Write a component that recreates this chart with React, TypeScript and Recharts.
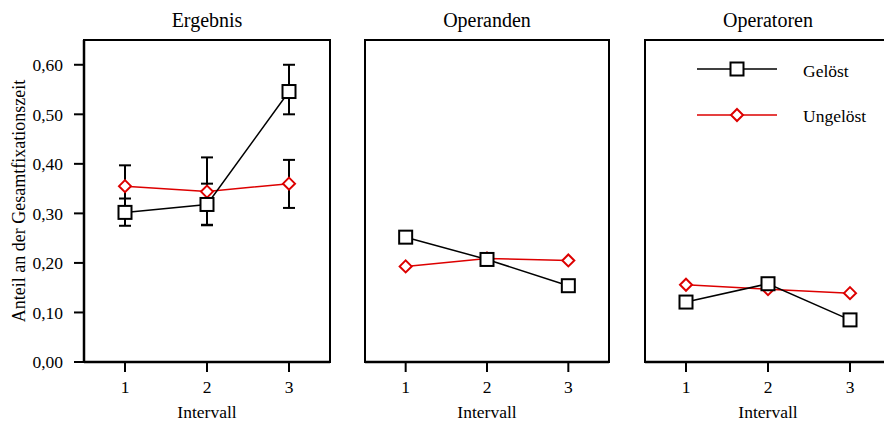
import React from 'react';
import {
  LineChart,
  Line,
  XAxis,
  YAxis,
  ErrorBar,
  ReferenceArea,
  Legend,
} from 'recharts';

const INTERVALS = [1, 2, 3];
const Y_TICKS = [0, 0.1, 0.2, 0.3, 0.4, 0.5, 0.6];

const ERGEBNIS_GELOEST = [0.302, 0.318, 0.546];
const ERGEBNIS_GELOEST_LOW = [0.275, 0.277, 0.5];
const ERGEBNIS_GELOEST_HIGH = [0.33, 0.36, 0.6];
const ERGEBNIS_UNGELOEST = [0.355, 0.344, 0.36];
const ERGEBNIS_UNGELOEST_LOW = [0.313, 0.276, 0.311];
const ERGEBNIS_UNGELOEST_HIGH = [0.397, 0.413, 0.408];

const OPERANDEN_GELOEST = [0.252, 0.207, 0.154];
const OPERANDEN_UNGELOEST = [0.193, 0.209, 0.205];

const OPERATOREN_GELOEST = [0.121, 0.158, 0.085];
const OPERATOREN_UNGELOEST = [0.156, 0.147, 0.139];

const RED = '#dd0000';
const FONT = '"Liberation Serif", "Times New Roman", serif';
const CHART_H = 425;
const PLOT_TOP = 40;
const X_AXIS_H = 63;

function buildRows(
  g: number[],
  u: number[],
  gLow?: number[],
  gHigh?: number[],
  uLow?: number[],
  uHigh?: number[],
) {
  return INTERVALS.map((x, i) => ({
    x,
    g: g[i],
    u: u[i],
    gErr: gLow && gHigh ? [g[i] - gLow[i], gHigh[i] - g[i]] : undefined,
    uErr: uLow && uHigh ? [u[i] - uLow[i], uHigh[i] - u[i]] : undefined,
  }));
}

/* markers */
function SquareDot(props: any) {
  const { cx, cy, index } = props;
  if (cx == null || cy == null) return null;
  return (
    <rect
      key={`sq-${index}`}
      x={cx - 6.5}
      y={cy - 6.5}
      width={13}
      height={13}
      fill="#fff"
      stroke="#000"
      strokeWidth={2}
    />
  );
}

function DiamondDot(props: any) {
  const { cx, cy, index } = props;
  if (cx == null || cy == null) return null;
  const r = 6;
  return (
    <polygon
      key={`dm-${index}`}
      points={`${cx},${cy - r} ${cx + r},${cy} ${cx},${cy + r} ${cx - r},${cy}`}
      fill="#fff"
      stroke={RED}
      strokeWidth={2}
    />
  );
}

function LegendBox() {
  return (
    <svg width={200} height={90} style={{ display: 'block' }}>
      <line x1={7} y1={19} x2={87} y2={19} stroke="#000" strokeWidth={1.5} />
      <SquareDot cx={47} cy={19} index={0} />
      <text x={113} y={27} fontSize={17.5} fontFamily={FONT} fill="#000">
        Gelöst
      </text>
      <line x1={7} y1={65} x2={87} y2={65} stroke={RED} strokeWidth={1.5} />
      <DiamondDot cx={47} cy={65} index={1} />
      <text x={113} y={72} fontSize={17.5} fontFamily={FONT} fill="#000">
        Ungelöst
      </text>
    </svg>
  );
}

const tickStyle = { fill: '#000', fontSize: 17.5, fontFamily: FONT };

interface PanelProps {
  title: string;
  rows: ReturnType<typeof buildRows>;
  left: number;
  width: number;
  margin: { top: number; right: number; bottom: number; left: number };
  showY?: boolean;
  showErrors?: boolean;
  showLegend?: boolean;
}

function Panel({ title, rows, left, width, margin, showY, showErrors, showLegend }: PanelProps) {
  const yAxisW = showY ? 84 : 0;
  const plotLeft = margin.left + yAxisW;
  const plotW = width - margin.right - plotLeft;
  return (
    <div style={{ position: 'absolute', left, top: 0, width, height: CHART_H }}>
      <div
        style={{
          position: 'absolute',
          left: plotLeft,
          width: plotW,
          top: 10,
          textAlign: 'center',
          fontSize: 20,
          lineHeight: '20px',
          fontFamily: FONT,
          color: '#000',
        }}
      >
        {title}
      </div>
      <LineChart width={width} height={CHART_H} data={rows} margin={margin}>
        <XAxis
          dataKey="x"
          type="number"
          domain={[0.5, 3.5]}
          ticks={INTERVALS}
          height={X_AXIS_H}
          tick={tickStyle}
          tickSize={10}
          tickMargin={9}
          tickLine={{ stroke: '#000', strokeWidth: 2 }}
          axisLine={{ stroke: '#000', strokeWidth: 2.5 }}
          label={{
            value: 'Intervall',
            position: 'insideBottom',
            offset: 7,
            fill: '#000',
            fontSize: 17.5,
            fontFamily: FONT,
          }}
        />
        <YAxis
          type="number"
          domain={[0, 0.65]}
          ticks={Y_TICKS}
          hide={!showY}
          width={yAxisW}
          tick={tickStyle}
          tickSize={10}
          tickMargin={11}
          tickFormatter={(v: number) => v.toFixed(2).replace('.', ',')}
          tickLine={{ stroke: '#000', strokeWidth: 2 }}
          axisLine={{ stroke: '#000', strokeWidth: 2.5 }}
          label={
            showY
              ? {
                  value: 'Anteil an der Gesamtfixationszeit',
                  angle: -90,
                  position: 'insideLeft',
                  offset: 19,
                  fill: '#000',
                  fontSize: 18,
                  fontFamily: FONT,
                  style: { textAnchor: 'middle' },
                }
              : undefined
          }
        />
        <ReferenceArea
          x1={0.5}
          x2={3.5}
          y1={0}
          y2={0.65}
          fill="none"
          stroke="#000"
          strokeWidth={2}
        />
        <Line
          dataKey="u"
          name="Ungelöst"
          stroke={RED}
          strokeWidth={1.5}
          dot={<DiamondDot />}
          activeDot={false}
          isAnimationActive={false}
        >
          {showErrors && (
            <ErrorBar dataKey="uErr" width={6} stroke="#000" strokeWidth={2} direction="y" />
          )}
        </Line>
        <Line
          dataKey="g"
          name="Gelöst"
          stroke="#000"
          strokeWidth={1.5}
          dot={<SquareDot />}
          activeDot={false}
          isAnimationActive={false}
        >
          {showErrors && (
            <ErrorBar dataKey="gErr" width={6} stroke="#000" strokeWidth={2} direction="y" />
          )}
        </Line>
        {showLegend && (
          <Legend
            layout="horizontal"
            verticalAlign="middle"
            align="center"
            content={() => <LegendBox />}
            wrapperStyle={{ top: 50, left: 60, width: 200, height: 90 }}
          />
        )}
      </LineChart>
    </div>
  );
}

export default function App() {
  return (
    <div
      style={{
        position: 'fixed',
        left: 0,
        top: 0,
        width: 884,
        height: 425,
        overflow: 'hidden',
        background: '#fff',
        fontFamily: FONT,
      }}
    >
      <Panel
        title="Ergebnis"
        rows={buildRows(
          ERGEBNIS_GELOEST,
          ERGEBNIS_UNGELOEST,
          ERGEBNIS_GELOEST_LOW,
          ERGEBNIS_GELOEST_HIGH,
          ERGEBNIS_UNGELOEST_LOW,
          ERGEBNIS_UNGELOEST_HIGH,
        )}
        left={0}
        width={340}
        margin={{ top: PLOT_TOP, right: 10, bottom: 0, left: 0 }}
        showY
        showErrors
      />
      <Panel
        title="Operanden"
        rows={buildRows(OPERANDEN_GELOEST, OPERANDEN_UNGELOEST)}
        left={350}
        width={270}
        margin={{ top: PLOT_TOP, right: 11, bottom: 0, left: 15 }}
      />
      <Panel
        title="Operatoren"
        rows={buildRows(OPERATOREN_GELOEST, OPERATOREN_UNGELOEST)}
        left={630}
        width={270}
        margin={{ top: PLOT_TOP, right: 9, bottom: 0, left: 15 }}
        showLegend
      />
    </div>
  );
}
